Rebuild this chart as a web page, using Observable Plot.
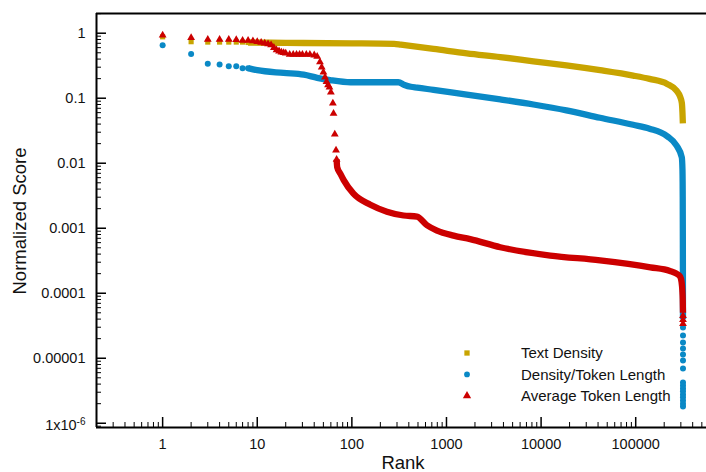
<!DOCTYPE html>
<html><head><meta charset="utf-8">
<script src="https://cdn.jsdelivr.net/npm/d3@7"></script>
<script src="https://cdn.jsdelivr.net/npm/@observablehq/plot@0.6"></script>
<style>
html,body{margin:0;padding:0;background:#fff;}
#chart{width:706px;height:472px;position:relative;}
</style></head><body><div id="chart"></div>
<script>
// ---------- data ----------
const seriesNames = ["Text Density", "Density/Token Length", "Average Token Length"];
const seriesColors = ["#c8a400", "#0a89c6", "#cc0000"];

// Text Density
const goldMarkRank  = [1, 2, 3, 4, 5, 6, 7, 8, 9, 10];
const goldMarkScore = [0.88, 0.74, 0.73, 0.73, 0.73, 0.73, 0.73, 0.72, 0.72, 0.72];
const goldTrailRank  = [8, 20, 100, 280, 330, 730, 1640, 3700, 8300, 18500, 42000, 94000, 140000, 215000, 270000, 295000, 307000, 312000, 315000];
const goldTrailScore = [0.72, 0.71, 0.70, 0.685, 0.665, 0.575, 0.49, 0.43, 0.37, 0.32, 0.27, 0.223, 0.198, 0.166, 0.131, 0.105, 0.085, 0.06, 0.041];

// Density/Token Length
const blueMarkRank  = [1, 2, 3, 4, 5, 6, 7, 8];
const blueMarkScore = [0.65, 0.48, 0.34, 0.33, 0.31, 0.31, 0.29, 0.29];
const blueTrailRank  = [8, 10, 19, 31, 43, 59, 97, 310, 360, 420, 490, 730, 1640, 3700, 8300, 18500, 42000, 94000, 140000, 215000, 270000, 307000, 312000, 314000, 315000, 316000];
const blueTrailScore = [0.29, 0.27, 0.245, 0.23, 0.206, 0.19, 0.176, 0.176, 0.160, 0.150, 0.146, 0.134, 0.114, 0.096, 0.080, 0.065, 0.050, 0.039, 0.034, 0.026, 0.0187, 0.0123, 0.008, 0.003, 0.0005, 0.00004];
const blueTailRank  = [316000, 316000, 316000, 316000, 316000, 316000, 316000, 316000, 316000, 316000, 316000, 316000, 316000, 316000, 316000, 316000];
const blueTailScore = [2.97e-5, 2.24e-5, 1.75e-5, 1.41e-5, 1.14e-5, 9.2e-6, 6.95e-6, 4.23e-6, 3.8e-6, 3.42e-6, 3.1e-6, 2.77e-6, 2.5e-6, 2.24e-6, 2.0e-6, 1.81e-6];

// Average Token Length
const redMarkRank  = [1, 2, 3, 4, 5, 6, 7, 8, 9, 10, 11, 12, 13, 14, 15, 16, 17, 18, 19, 20, 22, 24, 26, 28, 30, 33, 36, 40, 43, 46, 48, 50, 52, 54, 56, 58, 60, 63, 64, 66, 68, 69];
const redMarkScore = [0.93, 0.85, 0.80, 0.80, 0.80, 0.79, 0.77, 0.77, 0.76, 0.74, 0.72, 0.70, 0.68, 0.66, 0.60, 0.55, 0.53, 0.51, 0.50, 0.49, 0.47, 0.47, 0.47, 0.47, 0.47, 0.47, 0.47, 0.46, 0.44, 0.36, 0.30, 0.25, 0.21, 0.18, 0.16, 0.148, 0.124, 0.084, 0.058, 0.028, 0.0158, 0.0114];
const redTrailRank  = [69, 70, 76, 82, 104, 157, 235, 352, 488, 622, 794, 1190, 1780, 3700, 12500, 42000, 143000, 230000, 270000, 295000, 305000, 311000, 314000, 316000];
const redTrailScore = [0.0114, 0.0087, 0.0068, 0.0055, 0.0034, 0.0023, 0.0018, 0.00157, 0.00151, 0.00111, 0.00092, 0.00077, 0.00068, 0.00051, 0.00038, 0.00032, 0.00025, 0.00022, 0.0002, 0.00018, 0.00015, 0.00011, 0.00008, 0.00005];
const redTailRank  = [316000, 316000, 316000];
const redTailScore = [4.5e-5, 3.9e-5, 3.4e-5];

// axes
const xMajorTicks = [1, 10, 100, 1000, 10000, 100000];
const xTickLabels = ["1", "10", "100", "1000", "10000", "100000"];
const yMajorTicks = [1, 0.1, 0.01, 0.001, 0.0001, 0.00001, 0.000001];
const yTickLabels = ["1", "0.1", "0.01", "0.001", "0.0001", "0.00001", "1x10"];
const xTitle = "Rank";
const yTitle = "Normalized Score";

// ---------- layout ----------
const W = 706, H = 472;
const mTop = 13, mBottom = 45, mLeft = 96, mRight = 0;
const xDomain = [0.2, 560000];
const yDomain = [8.6e-7, 2.01];
const plotW = W - mLeft - mRight, plotH = H - mTop - mBottom;
const font = "'Liberation Sans', Arial, Helvetica, sans-serif";

const rows = (r, s) => r.map((v, i) => ({rank: v, score: s[i]}));

// minor ticks (axis machinery)
function minorTicks(dom) {
  const out = [];
  for (let e = Math.floor(Math.log10(dom[0])); e <= Math.ceil(Math.log10(dom[1])); e++) {
    for (let m = 2; m <= 9; m++) {
      const v = +(m * Math.pow(10, e)).toPrecision(6);
      if (v > dom[0] * 1.001 && v < dom[1] * 0.999) out.push(v);
    }
  }
  return out;
}
const xMinor = minorTicks(xDomain);
const yMinor = minorTicks(yDomain);

const lineOpts = (c) => ({x: "rank", y: "score", stroke: c, strokeWidth: 6.3, strokeLinejoin: "round", strokeLinecap: "butt", curve: "monotone-x"});
const dotOpts = (c, sym, r) => ({x: "rank", y: "score", fill: c, symbol: sym, r: r});

const chart = Plot.plot({
  width: W, height: H,
  marginTop: mTop, marginBottom: mBottom, marginLeft: mLeft, marginRight: mRight,
  style: {fontFamily: font, background: "#fff", color: "#111", overflow: "visible"},
  x: {type: "log", domain: xDomain},
  y: {type: "log", domain: yDomain},
  marks: [
    // tick marks pointing inward
    Plot.tickY(yMajorTicks, {y: d => d, insetRight: plotW - 10, stroke: "#000", strokeWidth: 1.5}),
    Plot.tickY(yMinor, {y: d => d, insetRight: plotW - 5, stroke: "#000", strokeWidth: 1}),
    Plot.tickX(xMajorTicks, {x: d => d, insetTop: plotH - 10, stroke: "#000", strokeWidth: 1.5}),
    Plot.tickX(xMinor, {x: d => d, insetTop: plotH - 5, stroke: "#000", strokeWidth: 1}),
    // tick labels
    Plot.axisY(yMajorTicks, {tickSize: 0, tickPadding: 11, fontSize: 14.5, tickFormat: (d) => yTickLabels[yMajorTicks.indexOf(d)], label: null}),
    Plot.axisX(xMajorTicks, {tickSize: 0, tickPadding: 11, fontSize: 14.5, tickFormat: (d) => xTickLabels[xMajorTicks.indexOf(d)], label: null}),
    // data
    Plot.line(rows(goldTrailRank, goldTrailScore), lineOpts(seriesColors[0])),
    Plot.dot(rows(goldMarkRank, goldMarkScore), dotOpts(seriesColors[0], "square", 2.9)),
    Plot.line(rows(blueTrailRank, blueTrailScore), lineOpts(seriesColors[1])),
    Plot.dot(rows(blueMarkRank, blueMarkScore), dotOpts(seriesColors[1], "circle", 3)),
    Plot.dot(rows(blueTailRank, blueTailScore), dotOpts(seriesColors[1], "circle", 3)),
    Plot.line(rows(redTrailRank, redTrailScore), lineOpts(seriesColors[2])),
    Plot.dot(rows(redMarkRank, redMarkScore), dotOpts(seriesColors[2], "triangle", 2.9)),
    Plot.dot(rows(redTailRank, redTailScore), dotOpts(seriesColors[2], "triangle", 2.9)),
    // frame (left, top, bottom)
    Plot.ruleX([xDomain[0]], {stroke: "#000", strokeWidth: 2}),
    Plot.ruleY([yDomain[1]], {stroke: "#000", strokeWidth: 2}),
    Plot.ruleY([yDomain[0]], {stroke: "#000", strokeWidth: 2})
  ]
});

document.getElementById("chart").appendChild(chart);

const svg = d3.select(chart);
// superscript for 1x10^-6
svg.selectAll("text").each(function () {
  if (this.textContent === "1x10") {
    const t = d3.select(this);
    t.attr("transform", (t.attr("transform") || "") + " translate(0,2)");
    t.append("tspan").attr("dy", "-0.5em").attr("font-size", "10px").text("-6");
  }
});

// axis titles
svg.append("text")
  .attr("x", 403).attr("y", 469)
  .attr("text-anchor", "middle")
  .attr("font-size", 18.5).attr("font-family", font).attr("fill", "#111")
  .text(xTitle);
svg.append("text")
  .attr("transform", "translate(25.5,221) rotate(-90)")
  .attr("text-anchor", "middle")
  .attr("font-size", 18.5).attr("font-family", font).attr("fill", "#111")
  .text(yTitle);

// legend
const legendSymbols = [d3.symbolSquare, d3.symbolCircle, d3.symbolTriangle];
const legendSizes = [28, 26, 30];
const lg = svg.append("g");
seriesNames.forEach((name, i) => {
  const cy = 353 + i * 21.4;
  lg.append("path")
    .attr("d", d3.symbol(legendSymbols[i], legendSizes[i])())
    .attr("transform", `translate(467,${cy})`)
    .attr("fill", seriesColors[i]);
  lg.append("text")
    .attr("x", 521).attr("y", cy).attr("dy", "0.35em")
    .attr("text-anchor", "start")
    .attr("font-size", 15).attr("font-family", font).attr("fill", "#111")
    .text(name);
});
</script></body></html>
